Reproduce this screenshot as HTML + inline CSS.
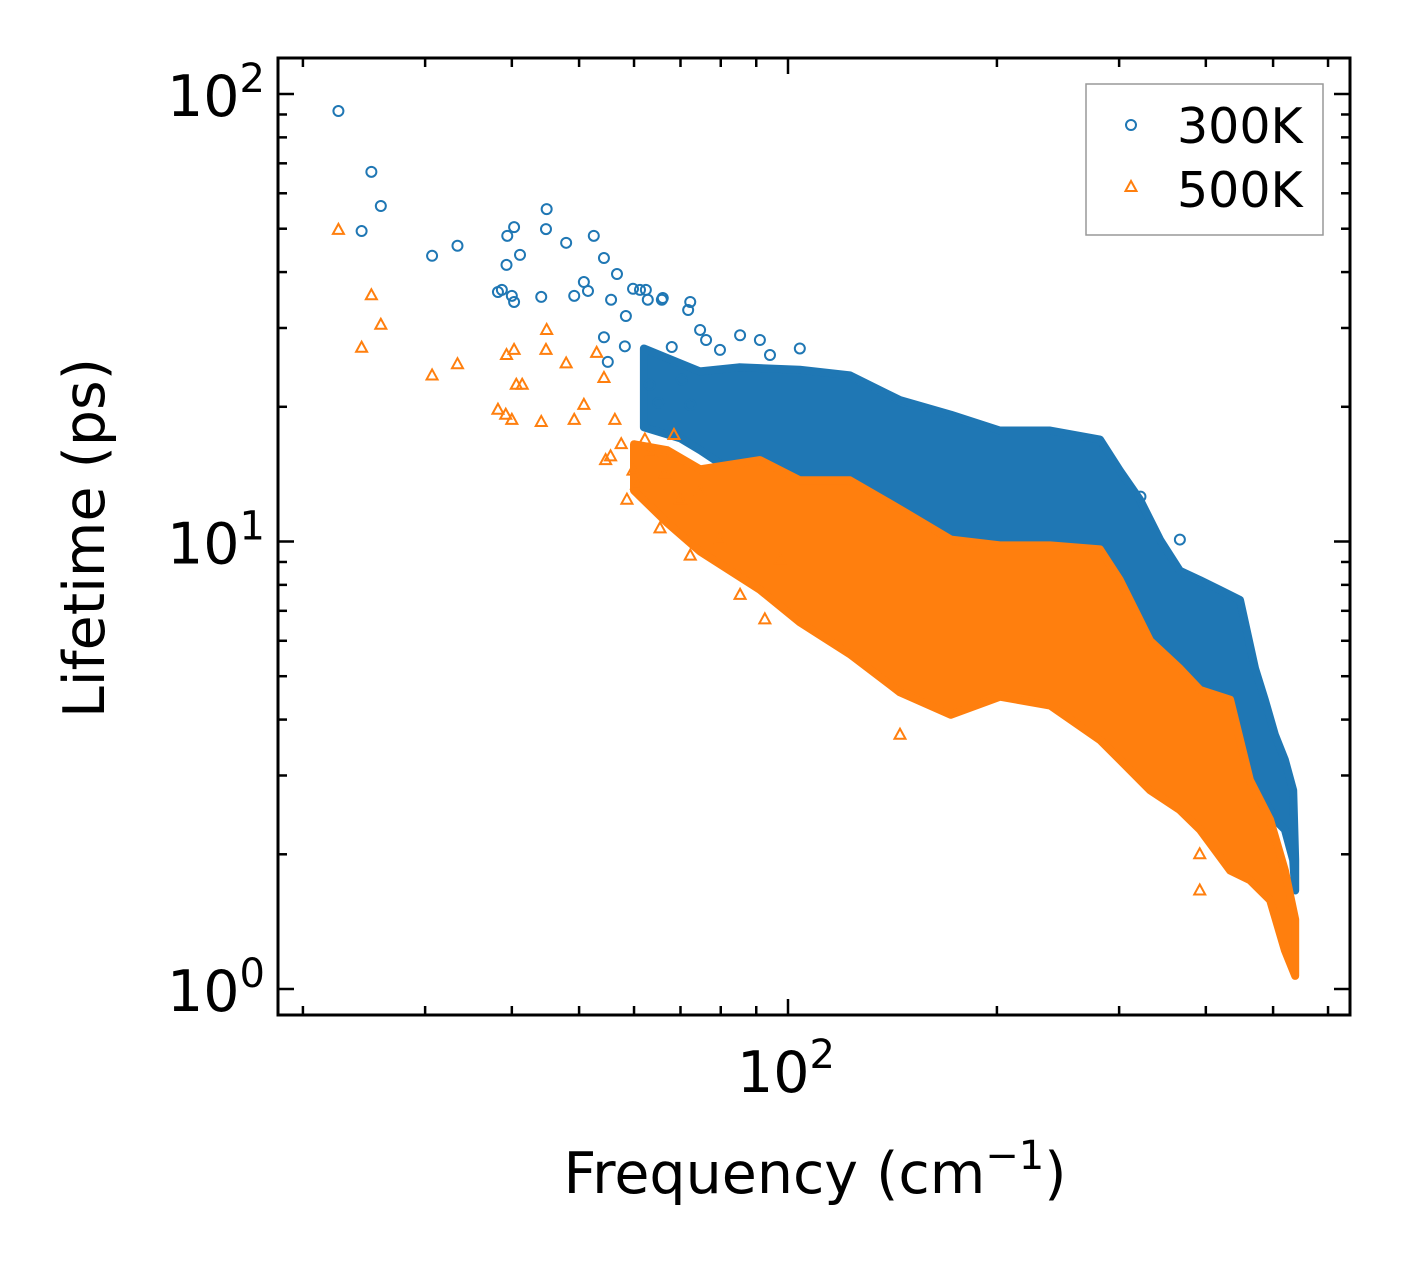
<!DOCTYPE html>
<html><head><meta charset="utf-8"><style>
html,body{margin:0;padding:0;background:#fff;width:1408px;height:1265px;overflow:hidden}
svg text{font-family:"DejaVu Sans","Liberation Sans",sans-serif;fill:#000}
</style></head><body>
<svg id="chart" width="1408" height="1265" viewBox="0 0 1408 1265" xmlns="http://www.w3.org/2000/svg">
<g id="marks"></g>
<g id="axes"></g>
<rect x="278" y="58" width="1072" height="957" fill="none" stroke="#000" stroke-width="3"/>
<g>
<rect x="1086" y="84" width="237" height="151" fill="#fff" stroke="#999" stroke-width="1.5"/>
<circle cx="1131" cy="125" r="5" fill="none" stroke="#1f77b4" stroke-width="2"/>
<text x="1177" y="143" font-size="49">300K</text>
<polygon points="1131,181 1125.5,191 1136.5,191" fill="none" stroke="#ff7f0e" stroke-width="2"/>
<text x="1177" y="207" font-size="49">500K</text>
</g>
<text x="815" y="1193" font-size="57" text-anchor="middle">Frequency (cm<tspan dy="-24" font-size="40">−1</tspan><tspan dy="24">)</tspan></text>
<text transform="translate(104,538) rotate(-90)" font-size="57" text-anchor="middle">Lifetime (ps)</text>
</svg>
<script>
const blueF=[22.5,25.1,25.9,24.3,30.7,33.4,40.3,39.4,41.1,39.3,38.2,38.7,40.0,40.3,44.9,44.8,44.1,47.9,49.2,50.8,51.5,52.5,54.3,56.7,54.3,55.6,58.4,59.8,61.2,62.4,62.8,65.8,66.0,72.3,71.8,74.7,58.2,55.0,63.2,65.0,68.0,70.3,72.3,76.2,79.8,85.3,91.1,94.2,104,367,322];
const blueL=[91.6,67.0,56.2,49.4,43.5,45.8,50.4,48.2,43.7,41.5,36.1,36.5,35.4,34.3,55.3,49.9,35.2,46.5,35.4,38.0,36.3,48.2,43.0,39.6,28.6,34.7,31.9,36.7,36.5,36.5,34.7,34.7,35.0,34.3,32.9,29.7,27.3,25.2,22.4,20.4,27.2,23.0,20.2,28.2,26.8,28.9,28.2,26.1,27.0,10.1,12.6];
const orangeF=[22.5,25.1,25.9,24.3,30.7,33.4,39.3,40.3,41.4,40.6,38.2,39.2,40.0,44.9,44.8,44.1,47.9,49.2,50.8,53.0,54.3,54.6,56.3,59.8,58.6,62.2,65.4,69.9,72.3,74.7,79.8,85.3,92.6,97.4,145,392,392,55.5,57.5,60.5,63.5,66.5,68.5];
const orangeL=[49.7,35.5,30.5,27.1,23.5,24.9,26.1,26.8,22.4,22.4,19.7,19.2,18.7,29.7,26.8,18.5,25.0,18.7,20.2,26.4,23.2,15.2,18.7,14.4,12.4,16.9,10.7,12.4,9.3,12.9,10.1,7.6,6.7,9.1,3.7,2.0,1.66,15.5,16.5,13.4,15.8,14.2,17.3];
const blueEnvF=[62,70,74.7,85,104,122.8,145,171.7,202,238.6,281.6,300.8,321.5,343.6,367,392.4,419,448,471,486.5,503,520,534.5,538];
const blueUpper=[27,25,24,24.5,24.2,23.5,20.7,19.2,17.7,17.7,16.9,14.4,12.4,10.1,8.6,8.2,7.8,7.4,5.2,4.43,3.70,3.25,2.78,1.94];
const blueLower=[18,17,16,14,11.8,10.6,9.1,8.2,7.4,7.0,6.7,5.7,4.9,4.43,4.2,3.99,3.79,3.60,2.78,2.64,2.39,2.27,1.94,1.66];
const orangeEnvF=[60,67,74.7,91.1,104,122.8,145,171.7,202,238.6,281.6,300.8,332.5,367,392.4,433.5,463,495,520,538];
const orangeUpper=[16.5,16,14.5,15.2,13.7,13.7,11.8,10.1,9.8,9.8,9.6,8.2,6.0,5.2,4.66,4.43,2.93,2.39,1.84,1.43];
const orangeLower=[13,11,9.5,7.8,6.6,5.6,4.6,4.1,4.5,4.3,3.60,3.25,2.78,2.51,2.27,1.84,1.75,1.58,1.22,1.07];
const yTicks=[1,10,100];
const yTickLabels=["0","1","2"];
const xTicks=[100];
const xTickLabels=["2"];

const NS="http://www.w3.org/2000/svg";
const X0=788,XD=694,Y0=989,YD=447.5;
function xs(f){return X0+XD*(Math.log10(f)-2);}
function ys(v){return Y0-YD*Math.log10(v);}
const marks=document.getElementById('marks'),axes=document.getElementById('axes');
function mk(tag,attrs,parent){const e=document.createElementNS(NS,tag);for(const k in attrs)e.setAttribute(k,attrs[k]);parent.appendChild(e);return e;}

function env(F,U,L,color,name){
  let pts=[];
  for(let i=0;i<F.length;i++)pts.push(xs(F[i]).toFixed(1)+','+ys(U[i]).toFixed(1));
  for(let i=F.length-1;i>=0;i--)pts.push(xs(F[i]).toFixed(1)+','+ys(L[i]).toFixed(1));
  const p=mk('polygon',{points:pts.join(' '),fill:color,stroke:color,'stroke-width':8,'stroke-linejoin':'round'},marks);
  
  
}
env(blueEnvF,blueUpper,blueLower,'#1f77b4','blue-dense-region');
for(let i=0;i<blueF.length;i++){
  const c=mk('circle',{cx:xs(blueF[i]),cy:ys(blueL[i]),r:5,fill:'none',stroke:'#1f77b4','stroke-width':2},marks);
  
  
}
env(orangeEnvF,orangeUpper,orangeLower,'#ff7f0e','orange-dense-region');
for(let i=0;i<orangeF.length;i++){
  const x=xs(orangeF[i]),y=ys(orangeL[i]);
  const t=mk('polygon',{points:`${x},${y-6} ${x-5.5},${y+4} ${x+5.5},${y+4}`,fill:'none',stroke:'#ff7f0e','stroke-width':2},marks);
  
  
}
function line(x1,y1,x2,y2,name){const l=mk('line',{x1,y1,x2,y2,stroke:'#000','stroke-width':2.5},axes);}
for(let d=0;d<3;d++)for(let m=1;m<10;m++){
  const v=m*Math.pow(10,d);const y=ys(v);if(y<58||y>1015)continue;
  const len=m===1?16:9;
  line(278,y,278+len,y,'y-tick');line(1350,y,1350-len,y,'y-tick-right');
}
for(let d=1;d<3;d++)for(let m=1;m<10;m++){
  const v=m*Math.pow(10,d);const x=xs(v);if(x<278||x>1350)continue;
  const len=m===1?16:9;
  line(x,1015,x,1015-len,'x-tick');line(x,58,x,58+len,'x-tick-top');
}
yTicks.forEach((v,i)=>{
  const t=mk('text',{x:265,y:ys(v)+22,'font-size':57,'text-anchor':'end'},axes);
  
  
  t.innerHTML='10<tspan dy="-24" font-size="40">'+yTickLabels[i]+'</tspan>';
});
xTicks.forEach((v,i)=>{
  const t=mk('text',{x:xs(v)-2,y:1092,'font-size':57,'text-anchor':'middle'},axes);
  
  
  t.innerHTML='10<tspan dy="-24" font-size="40">'+xTickLabels[i]+'</tspan>';
});
</script>
</body></html>
